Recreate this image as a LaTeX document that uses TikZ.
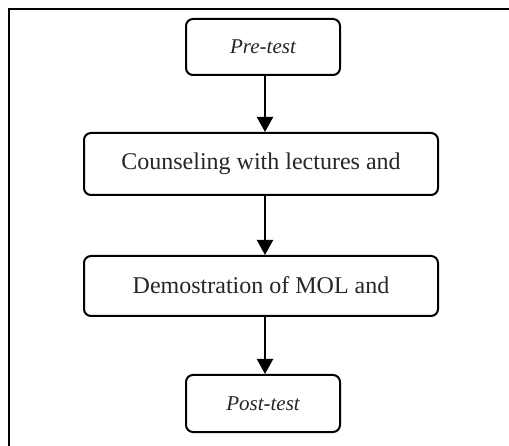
\documentclass[tikz,border=0pt]{standalone}
\usepackage{fontspec}
\setmainfont{Liberation Serif}
\usetikzlibrary{arrows.meta}
\tikzset{
  box/.style={draw=black, line width=2pt, rounded corners=7pt, align=center, inner sep=0pt, text=black!85},
  flow/.style={draw=black, line width=2.2pt, -{Triangle[width=16pt,length=15pt]}},
  frameline/.style={draw=black, line width=2.5pt}
}
\begin{document}
\begin{tikzpicture}[x=1pt,y=-1pt]
\useasboundingbox (0,0) rectangle (509,446);
\fill[white] (0,0) rectangle (509,446);
\coordinate (ftl) at (9,9);
\coordinate (ftr) at (509,9);
\coordinate (fbl) at (9,446);
\draw[frameline] (ftr) -- (ftl) -- (fbl);
\node[box, minimum width=154pt, minimum height=56pt, font=\fontsize{21}{24}\selectfont\itshape] (pre) at (263,47) {Pre-test};
\node[box, minimum width=354pt, minimum height=62pt, font=\fontsize{24}{28}\selectfont] (couns) at (261,164) {\raisebox{2pt}{Counseling with lectures and}};
\node[box, minimum width=354pt, minimum height=60pt, font=\fontsize{24}{28}\selectfont] (demo) at (261,286) {\raisebox{2pt}{Demostration of MOL and}};
\node[box, minimum width=154pt, minimum height=57pt, font=\fontsize{21}{24}\selectfont\itshape] (post) at (263,403.5) {Post-test};
\draw[flow] ([xshift=2pt]pre.south) -- ([xshift=2pt]pre.south |- couns.north);
\draw[flow] ([xshift=2pt]pre.south |- couns.south) -- ([xshift=2pt]pre.south |- demo.north);
\draw[flow] ([xshift=2pt]pre.south |- demo.south) -- ([xshift=2pt]post.north);
\end{tikzpicture}
\end{document}
